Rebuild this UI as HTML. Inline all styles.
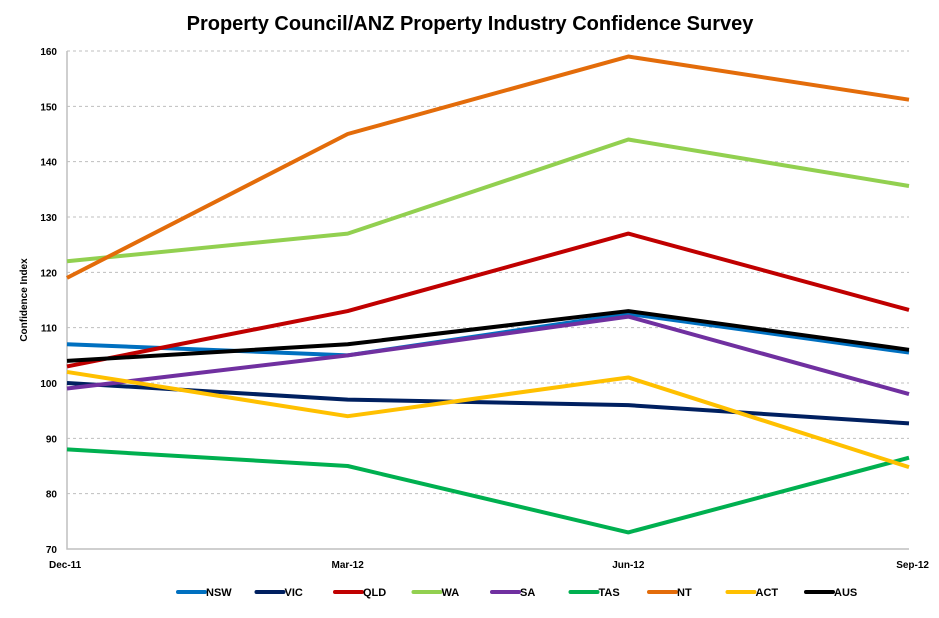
<!DOCTYPE html>
<html><head><meta charset="utf-8"><style>
html,body{margin:0;padding:0;background:#fff;}
svg text{font-family:"Liberation Sans",sans-serif;}
</style></head><body>
<svg width="939" height="613" viewBox="0 0 939 613" xmlns="http://www.w3.org/2000/svg">
<text x="470" y="30" text-anchor="middle" font-size="20" font-weight="bold" fill="#000">Property Council/ANZ Property Industry Confidence Survey</text>
<g id="grid"></g><g id="axes"></g><g id="series"></g><g id="legend"></g>
<text transform="translate(27,300) rotate(-90)" text-anchor="middle" font-size="10" font-weight="bold">Confidence Index</text>
</svg>
<script>
const categories=["Dec-11","Mar-12","Jun-12","Sep-12"];
const yTicks=[70,80,90,100,110,120,130,140,150,160];
const seriesNames=["NSW","VIC","QLD","WA","SA","TAS","NT","ACT","AUS"];
const colors=["#0070c0","#002060","#c00000","#92d050","#7030a0","#00b050","#e36c0a","#ffc000","#000000"];
const NSW=[107,105,112.5,105.5];
const VIC=[100,97,96,92.7];
const QLD=[103,113,127,113.2];
const WA=[122,127,144,135.6];
const SA=[99,105,112,98];
const TAS=[88,85,73,86.5];
const NT=[119,145,159,151.2];
const ACT=[102,94,101,84.8];
const AUS=[104,107,113,106];
const seriesData=[NSW,VIC,QLD,WA,SA,TAS,NT,ACT,AUS];
const NS="http://www.w3.org/2000/svg";
const X0=67,X1=909,Y0=549,Y1=51;
const x=i=>X0+i*(X1-X0)/(categories.length-1);
const y=v=>Y0-(v-70)/90*(Y0-Y1);
function mk(t,a,p){const e=document.createElementNS(NS,t);for(const k in a)e.setAttribute(k,a[k]);p.appendChild(e);return e;}
const grid=document.getElementById('grid'),axes=document.getElementById('axes'),ser=document.getElementById('series'),leg=document.getElementById('legend');
yTicks.forEach(v=>{
  if(v>70){const g=mk('line',{x1:X0,x2:X1,y1:y(v),y2:y(v),stroke:'#bfbfbf','stroke-dasharray':'3,3'},grid);
  
  }
  const t=mk('text',{x:X0-10,y:y(v)+4,'text-anchor':'end','font-size':'10','font-weight':'bold'},axes);
  t.textContent=v;
  
  
});
const ax=mk('path',{d:`M${X0},${Y1} V${Y0} H${X1}`,stroke:'#bfbfbf','stroke-width':'1.5',fill:'none'},axes);


categories.forEach((c,i)=>{
  const anchor=i==0?'start':(i==categories.length-1?'end':'middle');
  const t=mk('text',{x:i==0?X0-18:(i==categories.length-1?X1+20:x(i)),y:568,'text-anchor':anchor,'font-size':'10','font-weight':'bold'},axes);
  t.textContent=c;
  
  
});
seriesData.forEach((d,s)=>{
  const p=mk('polyline',{points:d.map((v,i)=>x(i)+','+y(v)).join(' '),fill:'none',stroke:colors[s],'stroke-width':'4','stroke-linejoin':'round'},ser);
  
  
});
seriesNames.forEach((n,s)=>{
  const lx=178+s*78.5;
  const g=mk('g',{},leg);
  
  
  mk('line',{x1:lx,x2:lx+27,y1:592,y2:592,stroke:colors[s],'stroke-width':'4','stroke-linecap':'round'},g);
  const t=mk('text',{x:lx+28,y:596,'font-size':'11','font-weight':'bold'},g);
  t.textContent=n;
});
</script>
</body></html>
